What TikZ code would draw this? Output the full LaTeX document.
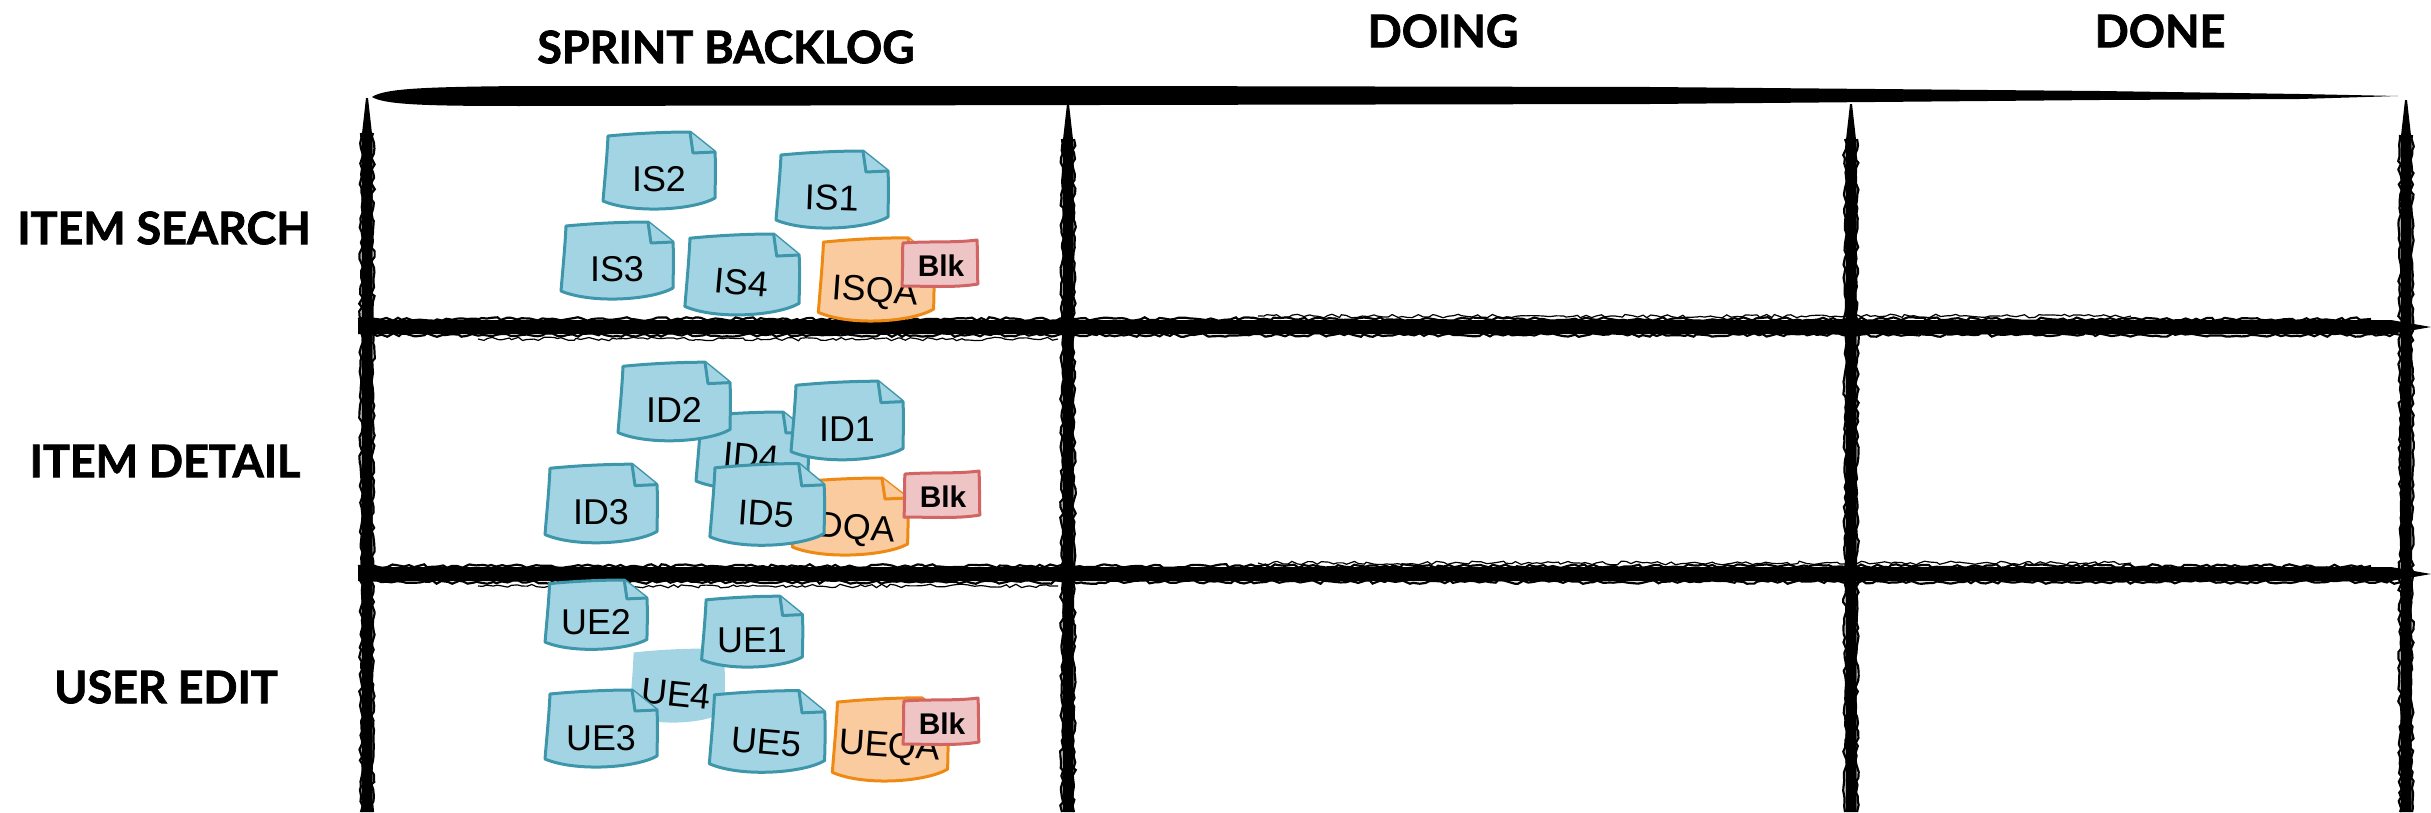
\documentclass[tikz,border=0pt]{standalone}
\usepackage{fontspec}
\setmainfont{Liberation Sans}
\newfontfamily\headfont{Lato}[BoldFeatures={FakeBold=1.6}]
\usetikzlibrary{decorations.pathmorphing}
\definecolor{bfill}{HTML}{A3D4E3}
\definecolor{bdraw}{HTML}{3E96AA}
\definecolor{ofill}{HTML}{F9CB9E}
\definecolor{odraw}{HTML}{EE8A14}
\definecolor{pfill}{HTML}{EEC4C4}
\definecolor{pdraw}{HTML}{D26464}
\tikzset{
  head/.style={font=\headfont\bfseries\fontsize{45}{50}\selectfont, inner sep=0pt},
  ntext/.style={font=\fontsize{36}{40}\selectfont, inner sep=0pt},
  btext/.style={font=\bfseries\fontsize{30}{33}\selectfont, inner sep=0pt},
  bluenote/.style={fill=bfill, draw=bdraw, line width=3bp, line join=round},
  flatnote/.style={fill=bfill, draw=none},
  orangenote/.style={fill=ofill, draw=odraw, line width=3bp, line join=round},
  pinknote/.style={fill=pfill, draw=pdraw, line width=3bp, line join=round},
  rough/.style={line width=2.2bp, decorate, decoration={random steps, segment length=5pt, amplitude=1.8pt}},
  stickyshape/.pic={
    \path[pic actions] (-51,-36) .. controls (-20,-39) and (10,-40) .. (31,-40) -- (56,-20)
      .. controls (57,0) and (56,15) .. (56,26) .. controls (35,38) and (-25,42) .. (-56,29)
      .. controls (-54,5) and (-52,-15) .. cycle;
    \path[pic actions] (31,-40) -- (34,-19) -- (56,-20);
  },
  blkshape/.pic={
    \path[pic actions] (-37,-21) .. controls (-10,-23) and (15,-21) .. (37,-24)
      .. controls (38,-5) and (37,10) .. (38,20) .. controls (15,24) and (-15,22) .. (-38,22)
      .. controls (-37,5) and (-38,-10) .. cycle;
  }
}
\newcommand\snote[9]{% name, x, y, rot, xs, ys, style, text, text dy
  \begin{scope}[shift={(#2,#3)}, rotate=#4]
    \pic[#7, xscale=#5, yscale=#6] at (0,0) {stickyshape};
    \node[ntext, rotate=#4] (#1) at (0,#9) {#8};
  \end{scope}}
\newcommand\bnote[3]{% name, x, y
  \begin{scope}[shift={(#2,#3)}]
    \pic[pinknote] at (0,0) {blkshape};
    \node[btext] (#1) at (1,2) {Blk};
  \end{scope}}
\newcommand\vbrush[3]{% x y1 y2
  \fill (#1-1,#2) -- (#1+1,#2) -- (#1+5.5,#2+40) -- (#1+5.5,#3) -- (#1-5.5,#3) -- (#1-5.5,#2+40) -- cycle;
  \draw[rough] (#1-6,#2+35) -- (#1-6,#3);
  \draw[rough] (#1+6,#2+35) -- (#1+6,#3);}
\newcommand\hbrush[3]{% x1 x2 y
  \fill (#1,#3-7) -- (#2-40,#3-7) -- (#2,#3) -- (#2-40,#3+7) -- (#1,#3+7) -- cycle;
  \draw[rough] (#1,#3-8) -- (#2-60,#3-8);
  \draw[rough] (#1+10,#3+8) -- (#2-30,#3+8);
  \draw[rough, line width=1.2bp] (#1+120,#3+12) -- (#1+700,#3+12);
  \draw[rough, line width=1.2bp] (#1+900,#3-11) -- (#2-300,#3-11);}
\begin{document}
\begin{tikzpicture}[x=1bp, y=-1bp]
\pgfmathsetseed{7}
\useasboundingbox (0,0) rectangle (2431,812);
% headers
\node[head] (sb) at (726,47) {SPRINT BACKLOG};
\node[head] (doing) at (1443,31) {DOING};
\node[head] (done) at (2160,31) {DONE};
\node[head] (is) at (164,228) {ITEM SEARCH};
\node[head] (id) at (165,461) {ITEM DETAIL};
\node[head] (ue) at (166,687) {USER EDIT};
% top brush stroke
\fill (372,97) .. controls (385,88) and (430,87) .. (520,86) -- (1100,86) -- (1650,87)
  -- (2100,91) -- (2300,94) -- (2398,96) -- (2300,99) -- (2100,100) -- (1650,104)
  -- (1100,105) -- (520,106) .. controls (430,106) and (385,105) .. cycle;
% vertical brush lines
\vbrush{367}{98}{812}
\vbrush{1068}{104}{812}
\vbrush{1851}{104}{812}
\vbrush{2406}{100}{812}
% horizontal brush lines
\hbrush{358}{2431}{327}
\hbrush{358}{2431}{574}
% ITEM SEARCH notes
\snote{is2}{659}{172}{0}{1}{1}{bluenote}{IS2}{7}
\snote{is1}{832}{191}{-2}{1}{1}{bluenote}{IS1}{7}
\snote{is3}{617}{262}{0}{1}{1}{bluenote}{IS3}{7}
\snote{is4}{742}{276}{-5}{1.02}{1.05}{bluenote}{IS4}{7}
\snote{isqa}{876}{281}{-4}{1.03}{1.08}{orangenote}{ISQA}{12}
\bnote{blk1}{940}{264}
% ITEM DETAIL notes
\snote{id4}{752}{452}{-5}{1}{1}{bluenote}{ID4}{5}
\snote{id2}{674}{403}{0}{1}{1.02}{bluenote}{ID2}{7}
\snote{id1}{847}{422}{0}{1}{1.02}{bluenote}{ID1}{7}
\snote{id3}{601}{505}{0}{1}{1.02}{bluenote}{ID3}{7}
\snote{dqa}{850}{518}{-4}{1.03}{1.0}{orangenote}{\hspace*{14bp}DQA}{12}
\snote{id5}{767}{506}{-4}{1.02}{1.06}{bluenote}{ID5}{8}
\bnote{blk2}{942}{495}
% USER EDIT notes
\snote{ue4}{677}{687}{-6}{0.85}{0.96}{flatnote}{UE4}{7}
\snote{ue2}{596}{616}{0}{0.91}{0.9}{bluenote}{UE2}{6}
\snote{ue1}{752}{633}{0}{0.9}{0.92}{bluenote}{UE1}{7}
\snote{ue3}{601}{730}{0}{1}{1}{bluenote}{UE3}{8}
\snote{ue5}{767}{733}{-5}{1.03}{1.06}{bluenote}{UE5}{9}
\snote{ueqa}{890}{741}{-4}{1.03}{1.08}{orangenote}{UEQA}{7}
\bnote{blk3}{941}{722}
\end{tikzpicture}
\end{document}
